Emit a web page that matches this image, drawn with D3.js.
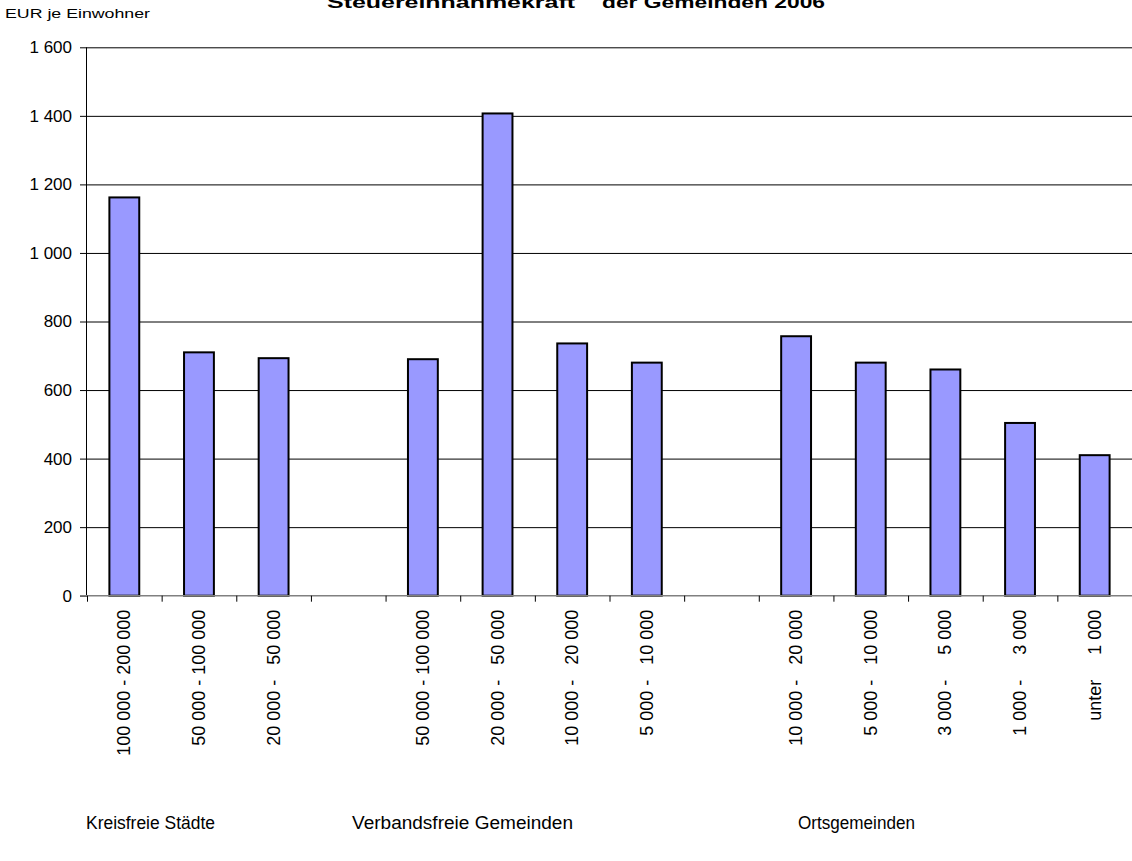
<!DOCTYPE html>
<html>
<head>
<meta charset="utf-8">
<script src="https://cdn.jsdelivr.net/npm/d3@7"></script>
<style>
  body { margin: 0; background: #fff; }
  svg { display: block; font-family: Arial, "Liberation Sans", sans-serif; }
  text { white-space: pre; }
</style>
</head>
<body>
<div id="chart"></div>
<script>
// slots on the x axis (empty strings are the gaps between groups)
const categories = [
  "100 000 - 200 000", "50 000 - 100 000", "20 000 -   50 000", "",
  "50 000 - 100 000", "20 000 -   50 000", "10 000 -   20 000", "5 000 -   10 000", "",
  "10 000 -   20 000", "5 000 -   10 000", "3 000 -     5 000", "1 000 -     3 000", "unter     1 000"
];
const values = [1162, 710, 693, null, 690, 1407, 736, 680, null, 757, 680, 660, 504, 410];
const yTicks = [0, 200, 400, 600, 800, 1000, 1200, 1400, 1600];
const groups = ["Kreisfreie Städte", "Verbandsfreie Gemeinden", "Ortsgemeinden"];
const groupX = [86, 352, 798];
const groupW = [129, 221, 117];

const W = 1132, H = 861;
const margin = { top: 47.3, right: 0, bottom: 861 - 595.7, left: 87 };
const width = W - margin.left - margin.right;
const height = H - margin.top - margin.bottom;

const svg = d3.select("#chart").append("svg")
  .attr("width", W)
  .attr("height", H);

// title (its top is cut off in the original too)
svg.append("text")
  .attr("x", 327)
  .attr("y", 7.5)
  .attr("font-size", 17)
  .attr("font-weight", "bold")
  .attr("textLength", 248)
  .attr("lengthAdjust", "spacingAndGlyphs")
  .text("Steuereinnahmekraft");
svg.append("text")
  .attr("x", 602)
  .attr("y", 7.5)
  .attr("font-size", 17)
  .attr("font-weight", "bold")
  .attr("textLength", 223)
  .attr("lengthAdjust", "spacingAndGlyphs")
  .text("der Gemeinden 2006");

svg.append("text")
  .attr("x", 5)
  .attr("y", 18)
  .attr("font-size", 12)
  .attr("textLength", 145)
  .attr("lengthAdjust", "spacingAndGlyphs")
  .text("EUR je Einwohner");

const g = svg.append("g")
  .attr("transform", "translate(" + margin.left + "," + margin.top + ")");

const x = d3.scaleBand()
  .domain(d3.range(categories.length))
  .range([0, width])
  .paddingInner(0.6)
  .paddingOuter(0.3);

const y = d3.scaleLinear()
  .domain([0, 1600])
  .range([height, 0]);

// grid lines
g.append("g")
  .selectAll("line")
  .data(yTicks.filter(d => d > 0))
  .enter()
  .append("line")
  .attr("x1", 0)
  .attr("x2", width)
  .attr("y1", d => y(d) + 0.5)
  .attr("y2", d => y(d) + 0.5)
  .attr("stroke", "#000")
  .attr("stroke-width", 1);

// y axis
const yAxis = g.append("g")
  .call(d3.axisLeft(y).tickValues(yTicks).tickSize(7).tickPadding(8)
    .tickFormat(d => d3.format(",")(d).replace(",", " ")));
yAxis.select(".domain").attr("stroke", "#000").attr("d", "M-0.5," + height + "V0");
yAxis.selectAll(".tick line").attr("stroke", "#000");
yAxis.selectAll("text")
  .attr("font-size", 17)
  .attr("font-family", "Arial, 'Liberation Sans', sans-serif")
  .attr("fill", "#000");

// bars
g.selectAll("rect.bar")
  .data(values.map((v, i) => ({ i, v })).filter(d => d.v !== null))
  .enter()
  .append("rect")
  .attr("class", "bar")
  .attr("x", d => x(d.i))
  .attr("y", d => y(d.v))
  .attr("width", x.bandwidth())
  .attr("height", d => height - y(d.v))
  .attr("fill", "#9999FF")
  .attr("stroke", "#000")
  .attr("stroke-width", 2);

// x axis: gray line with ticks between categories
const step = x.step();
const xAxis = g.append("g").attr("transform", "translate(0," + height + ")");
xAxis.append("line")
  .attr("x1", -7).attr("x2", width)
  .attr("y1", 0).attr("y2", 0)
  .attr("stroke", "#808080")
  .attr("stroke-width", 1.5);
xAxis.selectAll("line.tick")
  .data(d3.range(categories.length))
  .enter()
  .append("line")
  .attr("class", "tick")
  .attr("x1", i => i * step + 0.5)
  .attr("x2", i => i * step + 0.5)
  .attr("y1", 0)
  .attr("y2", 6)
  .attr("stroke", "#000");

xAxis.selectAll("text.cat")
  .data(categories)
  .enter()
  .append("text")
  .attr("class", "cat")
  .attr("transform", (d, i) => "translate(" + (x(i) + x.bandwidth() / 2 + 6) + ",14) rotate(-90)")
  .attr("text-anchor", "end")
  .attr("font-size", 18)
  .text(d => d);

// group labels
svg.selectAll("text.group")
  .data(groups)
  .enter()
  .append("text")
  .attr("class", "group")
  .attr("x", (d, i) => groupX[i])
  .attr("y", 829)
  .attr("font-size", 17.5)
  .attr("textLength", (d, i) => groupW[i])
  .attr("lengthAdjust", "spacingAndGlyphs")
  .text(d => d);
</script>
</body>
</html>
